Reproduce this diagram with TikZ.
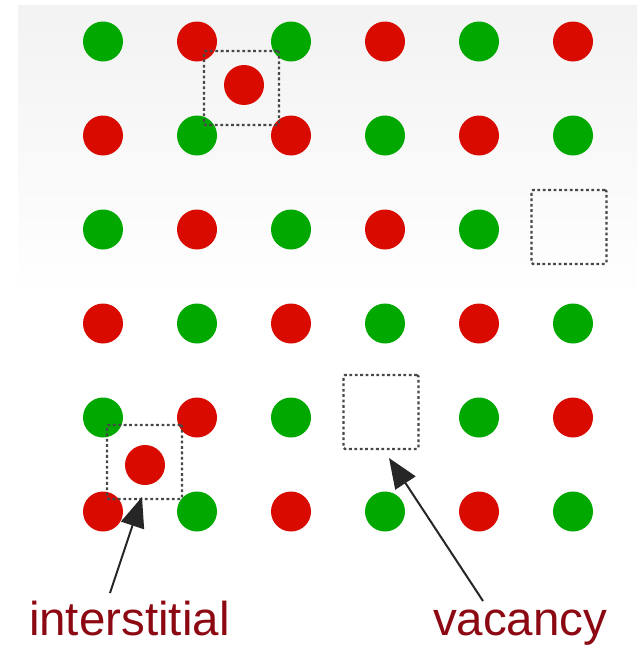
\documentclass[tikz,border=0pt]{standalone}
\usepackage{fontspec}
\setmainfont{Liberation Sans}
\usetikzlibrary{arrows.meta}
\definecolor{atomred}{RGB}{217,10,0}
\definecolor{atomgreen}{RGB}{0,168,0}
\definecolor{lblred}{RGB}{140,8,18}
\tikzset{
  atom/.style={circle, minimum size=40pt, inner sep=0pt, draw=none},
  ratom/.style={atom, fill=atomred},
  gatom/.style={atom, fill=atomgreen},
  defbox/.style={draw=black!72, line width=2.3pt, dash pattern=on 2.8pt off 2.6pt, rectangle, inner sep=0pt, minimum width=75pt, minimum height=74pt, rounded corners=1.5pt},
  lbl/.style={text=lblred, font=\fontsize{47.5}{50}\selectfont, inner sep=0pt, outer sep=0pt, anchor=base west},
  arr/.style={draw=black!85, line width=2pt, -{Triangle[length=30pt,width=24pt]}}
}
\begin{document}
\begin{tikzpicture}[x=1pt,y=-1pt]
\useasboundingbox (0,0) rectangle (637,645);
\shade[top color=black!5, bottom color=white] (18,5) rectangle (637,300);
% lattice
\foreach \r in {0,...,5}{
  \foreach \c in {0,...,5}{
    \pgfmathtruncatemacro{\myskip}{((\r==2) && (\c==5)) || ((\r==4) && (\c==3)) ? 1 : 0}
    \ifnum\myskip=0
      \pgfmathtruncatemacro{\myparity}{mod(\r+\c,2)}
      \ifnum\myparity=0
        \node[gatom] (a-\r-\c) at (103+94*\c, 41.5+94*\r) {};
      \else
        \node[ratom] (a-\r-\c) at (103+94*\c, 41.5+94*\r) {};
      \fi
    \fi
  }
}
% interstitial defects
\node[defbox] (box1) at (241.5,88) {};
\node[ratom] (int1) at (244,85) {};
\node[defbox] (box2) at (144.5,462) {};
\node[ratom] (int2) at (145,465) {};
% vacancies
\node[defbox] (vac1) at (569,227) {};
\node[defbox] (vac2) at (381,412) {};
% labels
\node[lbl] (lint) at (29,635) {interstitial};
\node[lbl] (lvac) at (433,635) {vacancy};
\coordinate (t1) at (110,593);
\coordinate (h1) at (142,497);
\coordinate (t2) at (483,601);
\coordinate (h2) at (389,458);
\draw[arr] (t1) -- (h1);
\draw[arr] (t2) -- (h2);
\end{tikzpicture}
\end{document}
